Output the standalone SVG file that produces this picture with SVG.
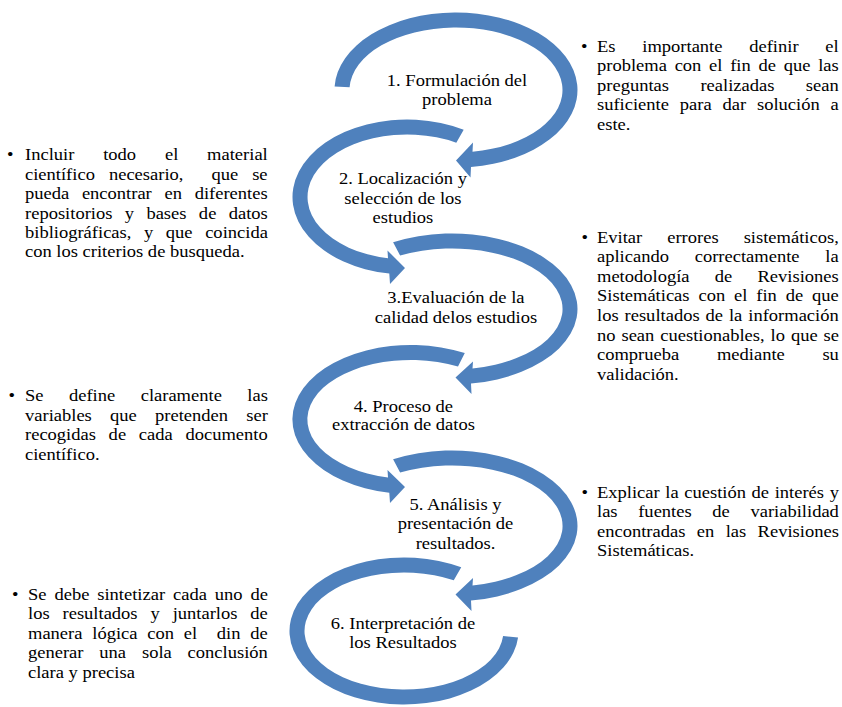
<svg xmlns="http://www.w3.org/2000/svg" width="842" height="707" viewBox="0 0 842 707">
<defs>
<style>
.arrow{fill:#4F81BD;}
.t{font-family:"Liberation Serif","Times New Roman",serif;font-size:17px;fill:#000;}
.c{text-anchor:middle;}
</style>
</defs>
<rect width="842" height="707" fill="#ffffff"/>
<g id="connectors">
<path class="arrow" d="M334.6,86.6 A121.5,77.5 0 1 1 471,166.9 L470.5,177.5 L456,160.5 L473,142.5 L472.5,151.75 A106.5,62.5 0 1 0 349.6,87.3 Z"/>
<path class="arrow" d="M463.7,129.7 A114.5,77.5 0 1 0 389.3,273.6 L390,284 L405,268 L387.5,250.5 L388,258.35 A99.5,62.5 0 1 1 456.3,142.7 Z"/>
<path class="arrow" d="M393.1,242.3 A125.5,75.5 0 1 1 471,383.6 L471.5,394 L455.5,377.5 L473,361.5 L472.5,368.45 A110.5,60.5 0 1 0 400.1,255.6 Z"/>
<path class="arrow" d="M464.8,353.1 A118.5,74.5 0 1 0 389.3,492.7 L390,503 L405,487 L387.5,470 L388,477.5 A103.5,59.5 0 1 1 458,366.5 Z"/>
<path class="arrow" d="M393.1,459.3 A125.5,75.5 0 1 1 471,600.6 L471.5,611 L455.5,594.5 L473,578 L472.5,585.45 A110.5,60.5 0 1 0 400.1,472.6 Z"/>
<path class="arrow" d="M461.25,567.35 A114.5,73.5 0 1 0 518.06,637.41 L503.12,636.1 A99.5,58.5 0 1 1 453.75,580.34 Z"/>
</g>
<g id="step1" transform="scale(1.09,1)">
<text class="t c" x="419.3" y="86">1. Formulación del</text>
<text class="t c" x="419.3" y="105.5">problema</text>
</g>
<g id="step2" transform="scale(1.09,1)">
<text class="t c" x="369.7" y="184.3">2. Localización y</text>
<text class="t c" x="369.7" y="204">selección de los</text>
<text class="t c" x="369.7" y="223.3">estudios</text>
</g>
<g id="step3" transform="scale(1.09,1)">
<text class="t c" x="418.3" y="303.3">3.Evaluación de la</text>
<text class="t c" x="418.3" y="322.7">calidad delos estudios</text>
</g>
<g id="step4" transform="scale(1.09,1)">
<text class="t c" x="370.1" y="411.7">4. Proceso de</text>
<text class="t c" x="370.1" y="430">extracción de datos</text>
</g>
<g id="step5" transform="scale(1.09,1)">
<text class="t c" x="417.9" y="510">5. Análisis y</text>
<text class="t c" x="417.9" y="529.3">presentación de</text>
<text class="t c" x="417.9" y="549">resultados.</text>
</g>
<g id="step6" transform="scale(1.09,1)">
<text class="t c" x="369.7" y="629.3">6. Interpretación de</text>
<text class="t c" x="369.7" y="648.3">los Resultados</text>
</g>
<g id="note1" transform="scale(1.09,1)">
<text class="t" x="533" y="51.7">•</text>
<text class="t" x="547.7" y="51.7" word-spacing="20.3">Es importante definir el</text>
<text class="t" x="547.7" y="71.3" word-spacing="2.85">problema con el fin de que las</text>
<text class="t" x="547.7" y="90.9" word-spacing="24.6">preguntas realizadas sean</text>
<text class="t" x="547.7" y="110.5" word-spacing="5.7">suficiente para dar solución a</text>
<text class="t" x="547.7" y="130.1">este.</text>
</g>
<g id="note2" transform="scale(1.09,1)">
<text class="t" x="6.4" y="160.5">•</text>
<text class="t" x="22.94" y="160.5" word-spacing="22.2">Incluir todo el material</text>
<text class="t" x="22.94" y="179.9" word-spacing="8.6" xml:space="preserve">científico necesario,  que se</text>
<text class="t" x="22.94" y="199.3" word-spacing="7.4">pueda encontrar en diferentes</text>
<text class="t" x="22.94" y="218.7" word-spacing="7.1">repositorios y bases de datos</text>
<text class="t" x="22.94" y="238.1" word-spacing="7.3">bibliográficas, y que coincida</text>
<text class="t" x="22.94" y="257.5">con los criterios de busqueda.</text>
</g>
<g id="note3" transform="scale(1.09,1)">
<text class="t" x="533.5" y="242.7">•</text>
<text class="t" x="547.7" y="242.7" word-spacing="18.7">Evitar errores sistemáticos,</text>
<text class="t" x="547.7" y="262.3" word-spacing="19.4">aplicando correctamente la</text>
<text class="t" x="547.7" y="281.9" word-spacing="18.9">metodología de Revisiones</text>
<text class="t" x="547.7" y="301.5" word-spacing="3.9">Sistemáticas con el fin de que</text>
<text class="t" x="547.7" y="321.1" word-spacing="1.2">los resultados de la información</text>
<text class="t" x="547.7" y="340.7" word-spacing="1.2">no sean cuestionables, lo que se</text>
<text class="t" x="547.7" y="360.3" word-spacing="30.3">comprueba mediante su</text>
<text class="t" x="547.7" y="379.9">validación.</text>
</g>
<g id="note4" transform="scale(1.09,1)">
<text class="t" x="7.8" y="401.5">•</text>
<text class="t" x="22.94" y="401.5" word-spacing="19.1">Se define claramente las</text>
<text class="t" x="22.94" y="421" word-spacing="12.5">variables que pretenden ser</text>
<text class="t" x="22.94" y="440.5" word-spacing="7.4">recogidas de cada documento</text>
<text class="t" x="22.94" y="460">científico.</text>
</g>
<g id="note5" transform="scale(1.09,1)">
<text class="t" x="533.5" y="497.7">•</text>
<text class="t" x="547.7" y="497.7" word-spacing="0.9">Explicar la cuestión de interés y</text>
<text class="t" x="547.7" y="517.3" word-spacing="14.7">las fuentes de variabilidad</text>
<text class="t" x="547.7" y="536.9" word-spacing="6.2">encontradas en las Revisiones</text>
<text class="t" x="547.7" y="556.5">Sistemáticas.</text>
</g>
<g id="note6" transform="scale(1.09,1)">
<text class="t" x="11" y="600">•</text>
<text class="t" x="25.69" y="600" word-spacing="3.0">Se debe sintetizar cada uno de</text>
<text class="t" x="25.69" y="619.4" word-spacing="7.6">los resultados y juntarlos de</text>
<text class="t" x="25.69" y="638.8" word-spacing="4.75" xml:space="preserve">manera lógica con el  din de</text>
<text class="t" x="25.69" y="658.2" word-spacing="10.3">generar una sola conclusión</text>
<text class="t" x="25.69" y="677.6">clara y precisa</text>
</g>
</svg>
